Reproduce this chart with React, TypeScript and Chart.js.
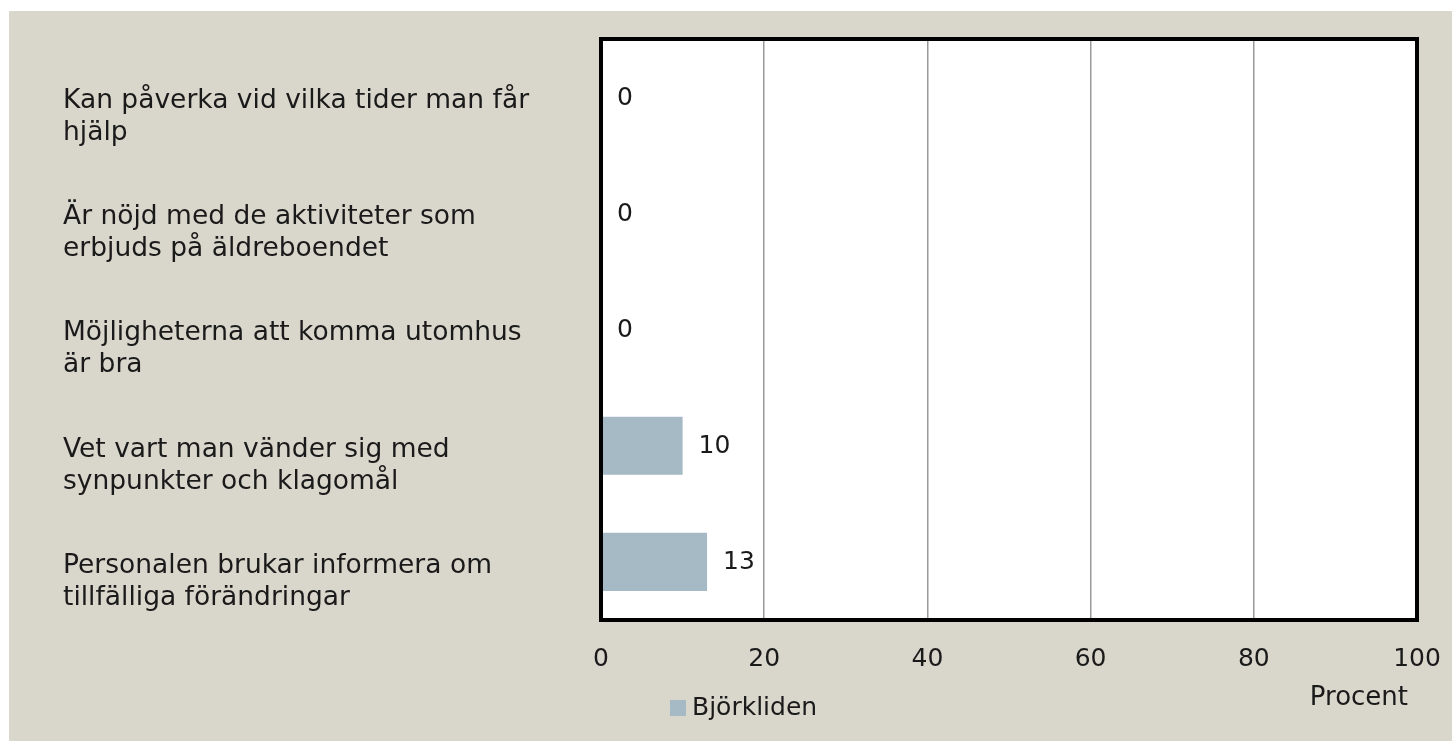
import React, { useEffect, useRef } from "react";
import { Chart, registerables } from "chart.js";

Chart.register(...registerables);

const categories: string[][] = [
  ["Kan påverka vid vilka tider man får", "hjälp"],
  ["Är nöjd med de aktiviteter som", "erbjuds på äldreboendet"],
  ["Möjligheterna att komma utomhus", "är bra"],
  ["Vet vart man vänder sig med", "synpunkter och klagomål"],
  ["Personalen brukar informera om", "tillfälliga förändringar"],
];
const seriesName = "Björkliden";
const values: number[] = [0, 0, 0, 10, 13];
const xTicks: number[] = [0, 20, 40, 60, 80, 100];
const axisTitle = "Procent";

const FONT = "'DejaVu Sans', sans-serif";
const TEXT = "#1a1a1a";
const BAR = "#a5bac5";
const BG = "#d9d7cc";

const W = 1443;
const H = 730;

export default function App() {
  const ref = useRef<HTMLCanvasElement | null>(null);

  useEffect(() => {
    if (!ref.current) return;

    const decor = {
      id: "decor",
      beforeDraw(chart: any) {
        const { ctx, chartArea: a } = chart;
        ctx.save();
        ctx.fillStyle = "#ffffff";
        ctx.fillRect(a.left, a.top, a.right - a.left, a.bottom - a.top);
        ctx.restore();
      },
      afterDatasetsDraw(chart: any) {
        const { ctx, chartArea: a } = chart;
        ctx.save();
        // border
        ctx.strokeStyle = "#000000";
        ctx.lineWidth = 4;
        ctx.strokeRect(a.left, a.top, a.right - a.left, a.bottom - a.top);
        // value labels
        const meta = chart.getDatasetMeta(0);
        ctx.fillStyle = TEXT;
        ctx.font = `25px ${FONT}`;
        ctx.textAlign = "left";
        ctx.textBaseline = "middle";
        meta.data.forEach((el: any, i: number) => {
          const v = chart.data.datasets[0].data[i];
          ctx.fillText(String(v), el.x + 16, el.y + 1);
        });
        // axis title
        ctx.font = `26px ${FONT}`;
        ctx.textAlign = "right";
        ctx.fillText(axisTitle, a.right - 9, 687);
        // legend
        const lx = 661;
        const ly = 689;
        ctx.fillStyle = chart.data.datasets[0].backgroundColor;
        ctx.fillRect(lx, ly, 16, 16);
        ctx.fillStyle = TEXT;
        ctx.font = `25px ${FONT}`;
        ctx.textAlign = "left";
        ctx.textBaseline = "middle";
        ctx.fillText(chart.data.datasets[0].label, lx + 22, ly + 8);
        ctx.restore();
      },
    };

    const chart = new Chart(ref.current, {
      type: "bar",
      data: {
        labels: categories,
        datasets: [
          {
            label: seriesName,
            data: values,
            backgroundColor: BAR,
            barPercentage: 0.5,
            categoryPercentage: 1,
          },
        ],
      },
      options: {
        indexAxis: "y",
        animation: false,
        responsive: false,
        devicePixelRatio: 1,
        layout: { padding: { left: 54, top: 28, right: 35, bottom: 0 } },
        plugins: {
          legend: { display: false },
          tooltip: { enabled: false },
        },
        scales: {
          x: {
            min: 0,
            max: 100,
            afterBuildTicks(scale: any) {
              scale.ticks = xTicks.map((v) => ({ value: v }));
            },
            afterFit(scale: any) {
              scale.height = 121;
              scale.paddingLeft = 0;
              scale.paddingRight = 0;
            },
            border: { display: false },
            grid: {
              color: (ctx: any) =>
                ctx.tick && (ctx.tick.value === 0 || ctx.tick.value === 100)
                  ? "rgba(0,0,0,0)"
                  : "#9a9a9a",
              lineWidth: 1.5,
              drawTicks: false,
            },
            ticks: {
              color: TEXT,
              font: { family: FONT, size: 25 },
              padding: 24,
              maxRotation: 0,
            },
          },
          y: {
            afterFit(scale: any) {
              scale.width = 538;
              scale.paddingTop = 0;
              scale.paddingBottom = 0;
            },
            border: { display: false },
            grid: { display: false, drawTicks: false },
            ticks: {
              color: TEXT,
              font: { family: FONT, size: 26.5, lineHeight: "32px" },
              crossAlign: "far",
              labelOffset: 20,
              padding: 0,
              autoSkip: false,
            },
          },
        },
      },
      plugins: [decor],
    } as any);

    return () => chart.destroy();
  }, []);

  return (
    <div
      style={{
        position: "fixed",
        left: 9,
        top: 11,
        width: W,
        height: H,
        background: BG,
      }}
    >
      <canvas ref={ref} width={W} height={H} style={{ display: "block" }} />
    </div>
  );
}
